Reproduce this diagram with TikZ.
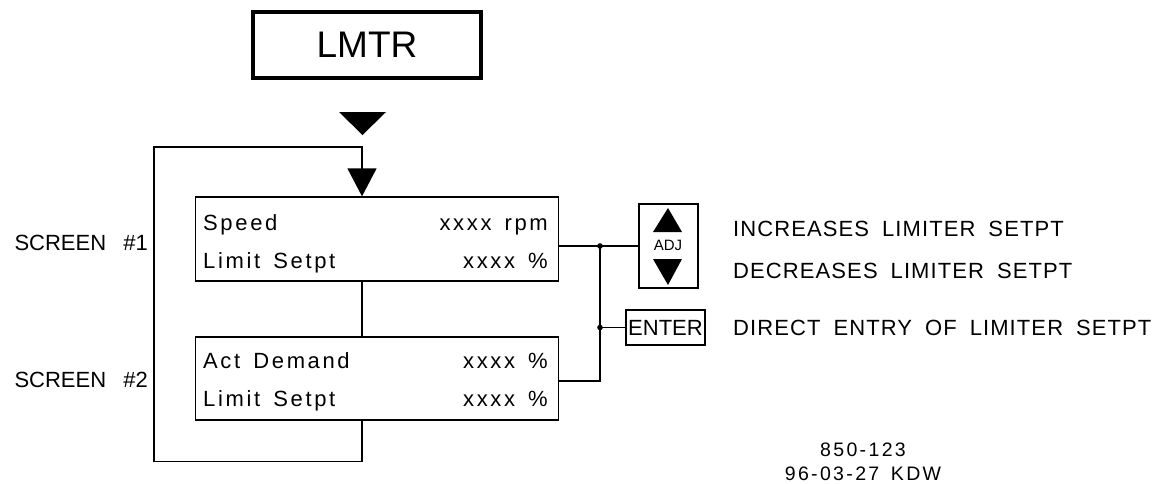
\documentclass[tikz,border=0pt]{standalone}
\usepackage{fontspec}
\setmainfont{Liberation Sans}
\newfontfamily\scrfont{Liberation Sans}[LetterSpace=12, WordSpace=2]
\newfontfamily\lblfont{Liberation Sans}[LetterSpace=5, WordSpace=1.8]
\newfontfamily\dwgfont{Liberation Sans}[LetterSpace=12, WordSpace=1.5]
\usetikzlibrary{arrows.meta}

\begin{document}
\begin{tikzpicture}[x=1pt, y=-1pt,
    every node/.style={inner sep=0pt},
    thinline/.style={line width=1.3pt},
    screenbox/.style={draw, thinline, minimum width=363pt, minimum height=84pt},
    keybox/.style={draw, thinline},
    scrtext/.style={font=\scrfont\fontsize{22}{26}\selectfont},
    lbltext/.style={font=\lblfont\fontsize{22}{26}\selectfont},
    smalltext/.style={font=\dwgfont\fontsize{19.5}{24}\selectfont}]
  \useasboundingbox (0,0) rectangle (1161,483);

  % mode key and entry mark
  \node[draw, line width=4pt, minimum width=228pt, minimum height=66pt,
        font=\fontsize{37}{40}\selectfont] (lmtr) at (367,45) {LMTR};
  \fill (339,112) -- (386,112) -- (362.5,135) -- cycle;

  % the two screens
  \node[screenbox] (scr1) at (377,239) {};
  \node[screenbox, minimum height=83pt] (scr2) at (377,378.5) {};
  \foreach \nm/\y/\lft/\rgt in {spd/230/Speed/xxxx rpm, limA/268/Limit Setpt/xxxx \%,
                                 dmd/368/Act Demand/xxxx \%, limB/406/Limit Setpt/xxxx \%} {
    \node[scrtext, anchor=base west] (\nm) at (203,\y) {\lft};
    \node[scrtext, anchor=base east] (\nm val) at (548,\y) {\rgt};
  }
  \node[anchor=base east, font=\fontsize{22}{26}\selectfont] (lab1) at (148,250) {SCREEN\hspace{11pt} \#1};
  \node[anchor=base east, font=\fontsize{22}{26}\selectfont] (lab2) at (148,387) {SCREEN\hspace{11pt} \#2};

  % scroll loop
  \coordinate (jx) at (362,147);
  \draw[thinline, -{Triangle[width=29pt,length=28pt]}]
    (scr2.south -| jx) -- ++(0,41) -| (154,147) -| (scr1.north -| jx);
  \draw[thinline] (scr1.south -| jx) -- (scr2.north -| jx);

  % keys
  \node[keybox, minimum width=59pt, minimum height=84pt] (adj) at (668.5,246) {};
  \fill (653,232) -- (682,232) -- (668,208) -- cycle;
  \fill (653,259) -- (682,259) -- (668,285) -- cycle;
  \node[font=\fontsize{15}{18}\selectfont] (adjlbl) at (668,245) {ADJ};
  \node[keybox, minimum width=79pt, minimum height=35pt,
        font=\fontsize{22}{26}\selectfont] (enter) at (665.5,327.5) {ENTER};

  % key wiring
  \coordinate (dotA) at (600,246);
  \coordinate (dotB) at (600,327.5);
  \coordinate (jB) at (600,381);
  \draw[thinline] (scr1.east |- dotA) -- (adj.west);
  \draw[thinline] (scr2.east |- jB) -- (jB) -- (dotA);
  \draw[thinline] (dotB) -- (enter.west);
  \foreach \d in {dotA,dotB} \fill (\d) circle (2.8pt);

  % key descriptions
  \node[lbltext, anchor=base west] (incr) at (733,236) {INCREASES LIMITER SETPT};
  \node[lbltext, anchor=base west] (decr) at (733,278) {DECREASES LIMITER SETPT};
  \node[lbltext, anchor=base west] (direct) at (733,335) {DIRECT ENTRY OF LIMITER SETPT};

  % drawing number
  \node[smalltext, anchor=base] (dwg) at (863,456) {850-123};
  \node[smalltext, anchor=base] (date) at (863,480) {96-03-27 KDW};
\end{tikzpicture}
\end{document}
